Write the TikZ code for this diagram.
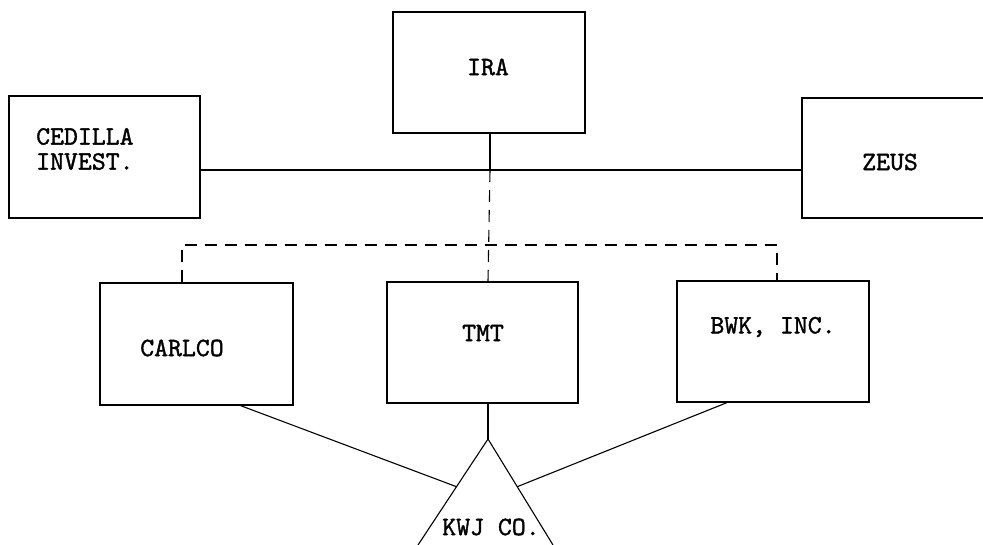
\documentclass[tikz,border=0pt]{standalone}
\usepackage{fontspec}
\newfontfamily\typer{lmmono10-regular.otf}[FakeBold=1.3]
\usetikzlibrary{calc}

\begin{document}
\begin{tikzpicture}[x=1pt,y=-1pt,
    box/.style={draw,line width=1.2pt,minimum width=192pt,minimum height=121pt,inner sep=0pt},
    firm/.style={font=\typer\fontsize{26.5}{25}\selectfont,inner sep=0pt},
    link/.style={line width=1.1pt},
    tie/.style={line width=1.1pt,dash pattern=on 12pt off 8pt}]
  \useasboundingbox (0,0) rectangle (983,545);
  % top row
  \node[box] (ira) at (489,72.5) {};
  \node[box,minimum width=191pt,minimum height=122pt] (cedilla) at (104.5,157) {};
  \node[box,minimum height=120pt] (zeus) at (898,158) {};
  \node[firm] (ira-txt) at (488,67) {IRA};
  \node[firm,align=left,anchor=west] (cedilla-txt) at (36,149) {CEDILLA\\INVEST.};
  \node[firm] (zeus-txt) at (890,162) {ZEUS};
  % middle row
  \node[box,minimum width=193pt,minimum height=122pt] (carlco) at (196.5,344) {};
  \node[box,minimum width=191pt] (tmt) at (482.5,342.5) {};
  \node[box] (bwk) at (773,341.5) {};
  \node[firm] (carlco-txt) at (182,348) {CARLCO};
  \node[firm] (tmt-txt) at (483,333) {TMT};
  \node[firm] (bwk-txt) at (773,327) {BWK, INC.};
  % the triangle
  \coordinate (apex) at (488,439);
  \coordinate (lfoot) at (418,545);
  \coordinate (rfoot) at (553,545);
  \draw[link] (lfoot) -- (apex) -- (rfoot);
  \node[firm] (kwj) at (491,527) {KWJ CO.};

  \coordinate (hub) at (490,170);
  \coordinate (dl) at (182,245);
  \coordinate (dr) at (777,245);
  \draw[link] (cedilla.east |- hub) -- (zeus.west |- hub);
  \draw[link] (ira.south -| hub) -- (hub);
  \draw[tie] (hub) -- (tmt.north -| apex);
  \draw[tie] (carlco.north -| dl) -- (dl) -- (dr) -- (bwk.north -| dr);
  \draw[link] (tmt.south -| apex) -- (apex);
  \draw[link] ($(carlco.south)+(44,0)$) -- ($(apex)!0.45!(lfoot)$);
  \draw[link] ($(bwk.south)+(-46,0)$) -- ($(apex)!0.45!(rfoot)$);
\end{tikzpicture}
\end{document}
